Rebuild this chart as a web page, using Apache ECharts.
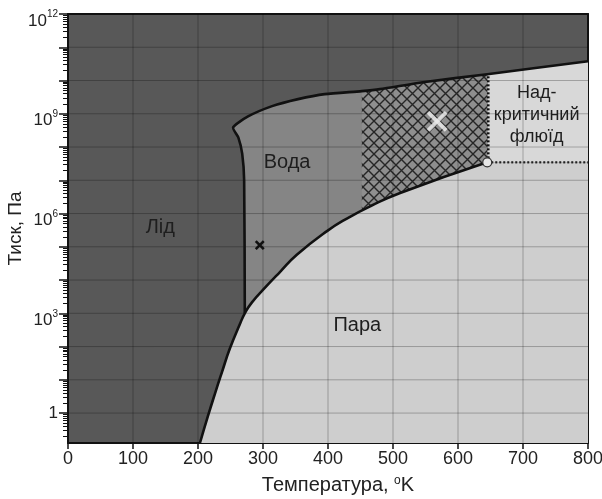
<!DOCTYPE html>
<html><head><meta charset="utf-8">
<script src="https://cdn.jsdelivr.net/npm/echarts@6/dist/echarts.min.js"></script>
<style>html,body{margin:0;padding:0;background:#fff}#c{width:602px;height:499px}</style>
</head><body><div id="c"></div>
<script>
// Temperature in K; pressure given as log10(P / Pa)
const tMin = 0, tMax = 800, pMin = -0.9, pMax = 12;
const yLabelExps = [0, 3, 6, 9, 12];
// sublimation + vaporization curve (ends at the critical point)
const vaporT    = [203, 215, 226, 237, 249, 265, 272, 283, 306, 326, 352, 399, 429, 465, 511, 645];
const vaporLogP = [-0.9, -0.11, 0.58, 1.24, 1.94, 2.7, 3.0, 3.33, 3.83, 4.24, 4.76, 5.48, 5.85, 6.22, 6.62, 7.54];
// melting line (from triple point upward)
const meltT    = [272, 271, 268, 262, 254];
const meltLogP = [3.0, 7.0, 7.8, 8.29, 8.59];
// high-pressure ice boundary
const iceT    = [254, 277, 314, 354, 395, 452, 480, 546, 645, 800];
const iceLogP = [8.59, 8.92, 9.23, 9.44, 9.59, 9.68, 9.74, 9.95, 10.19, 10.58];
const critT = 645, critLogP = 7.54;
// cross-hatched band: temperature range and its lower edge on the vapour curve
const hatchT = [452, 645];
const hatchLowLogP = 6.09;
const blackMark = [295, 5.05];
const whiteMark = [568, 8.77];
const regionNames = ['Лід', 'Вода', 'Пара', 'Над-\nкритичний\nфлюїд'];
const regionAt = [[142, 5.58], [337, 7.54], [445, 2.62], [721, 8.95]];

const pc = document.createElement('canvas');
pc.width = 11; pc.height = 11;
const g = pc.getContext('2d');
g.fillStyle = '#8e8e8e'; g.fillRect(0, 0, 11, 11);
g.strokeStyle = '#262626'; g.lineWidth = 1.4;
g.beginPath();
g.moveTo(-2, -2); g.lineTo(13, 13);
g.moveTo(13, -2); g.lineTo(-2, 13);
g.stroke();

const TXT = '#1e1e1e';
function renderItem(params, api) {
  const C = (t, p) => api.coord([t, p]);
  const ch = [];
  const vap = vaporT.map((t, i) => C(t, vaporLogP[i]));
  const ice = iceT.map((t, i) => C(t, iceLogP[i]));
  const melt = meltT.map((t, i) => C(t, meltLogP[i]));
  // vapour
  ch.push({type: 'polygon', shape: {points: vap.concat([C(tMax, critLogP), C(tMax, pMin), C(vaporT[0], pMin)])}, style: {fill: '#cecece'}});
  // supercritical
  const iceHi = iceT.map((t, i) => [t, iceLogP[i]]).filter(d => d[0] >= critT).map(d => C(d[0], d[1])).reverse();
  ch.push({type: 'polygon', shape: {points: [C(critT, critLogP), C(tMax, critLogP)].concat(iceHi)}, style: {fill: '#d8d8d8'}});
  // water
  const iceLo = iceT.map((t, i) => [t, iceLogP[i]]).filter(d => d[0] > meltT[meltT.length - 1] && d[0] <= critT).map(d => C(d[0], d[1]));
  const vapW = vaporT.map((t, i) => [t, vaporLogP[i]]).filter(d => d[0] >= meltT[0]).map(d => C(d[0], d[1])).reverse();
  ch.push({type: 'polygon', shape: {points: melt.concat(iceLo).concat(vapW)}, style: {fill: '#858585'}});
  // hatch
  const hv = [C(hatchT[0], hatchLowLogP)].concat(vaporT.map((t, i) => [t, vaporLogP[i]]).filter(d => d[0] > hatchT[0] && d[0] <= hatchT[1]).map(d => C(d[0], d[1])));
  const hi = iceT.map((t, i) => [t, iceLogP[i]]).filter(d => d[0] >= hatchT[0] && d[0] <= hatchT[1]).map(d => C(d[0], d[1])).reverse();
  ch.push({type: 'polygon', shape: {points: hv.concat(hi)}, style: {fill: {image: pc, repeat: 'repeat'}}});
  // grid lines
  for (let t = 100; t < tMax; t += 100) {
    const a = C(t, pMin), b = C(t, pMax);
    ch.push({type: 'line', shape: {x1: a[0], y1: a[1], x2: b[0], y2: b[1]}, style: {stroke: 'rgba(0,0,0,0.26)', lineWidth: 1}});
  }
  for (let p = 0; p < pMax; p++) {
    const a = C(tMin, p), b = C(tMax, p);
    ch.push({type: 'line', shape: {x1: a[0], y1: a[1], x2: b[0], y2: b[1]}, style: {stroke: 'rgba(0,0,0,0.26)', lineWidth: 1}});
  }
  // boundaries
  ch.push({type: 'polyline', shape: {points: vap, smooth: 0.5}, style: {stroke: '#111', lineWidth: 2.6, fill: null}});
  ch.push({type: 'polyline', shape: {points: melt.concat(ice.slice(1)), smooth: 0.2}, style: {stroke: '#111', lineWidth: 2.6, fill: null}});
  // critical dotted lines
  const cp = C(critT, critLogP);
  const topC = C(critT, iceLogP[iceT.indexOf(critT)]);
  ch.push({type: 'line', shape: {x1: cp[0], y1: cp[1], x2: C(tMax, critLogP)[0], y2: cp[1]}, style: {stroke: '#222', lineWidth: 2.2, lineDash: [2, 2]}});
  ch.push({type: 'line', shape: {x1: cp[0] + 1, y1: cp[1], x2: topC[0] + 1, y2: topC[1]}, style: {stroke: '#111', lineWidth: 2.6, lineDash: [2, 2]}});
  ch.push({type: 'circle', shape: {cx: cp[0], cy: cp[1], r: 4.5}, style: {fill: '#e6e6e6', stroke: '#333', lineWidth: 1.2}});
  // marks
  const bm = C(blackMark[0], blackMark[1]);
  const wm = C(whiteMark[0], whiteMark[1]);
  const cross = (c, s, w, col) => {
    ch.push({type: 'line', shape: {x1: c[0] - s, y1: c[1] - s, x2: c[0] + s, y2: c[1] + s}, style: {stroke: col, lineWidth: w}});
    ch.push({type: 'line', shape: {x1: c[0] - s, y1: c[1] + s, x2: c[0] + s, y2: c[1] - s}, style: {stroke: col, lineWidth: w}});
  };
  cross(bm, 4, 2.6, '#111');
  cross(wm, 9, 4, 'rgba(235,235,235,0.85)');
  // region names
  regionNames.forEach((n, i) => {
    const c = C(regionAt[i][0], regionAt[i][1]);
    ch.push({type: 'text', x: c[0], y: c[1], style: {text: n, fill: TXT, fontSize: i === 3 ? 18 : 20, fontFamily: 'Liberation Sans, Arial, sans-serif', align: 'center', verticalAlign: 'middle', lineHeight: i === 3 ? 22 : 20}});
  });
  return {type: 'group', children: ch};
}

const yMajor = [];
for (let p = 0; p <= 12; p++) yMajor.push(p);
const yMinor = [];
for (let p = -1; p < 12; p++) for (let k = 2; k <= 9; k++) { const v = p + Math.log10(k); if (v >= pMin && v <= pMax) yMinor.push(v); }

const chart = echarts.init(document.getElementById('c'));
chart.setOption({
  animation: false,
  textStyle: {fontFamily: 'Liberation Sans, Arial, sans-serif'},
  grid: {left: 68, right: 14, top: 14, bottom: 56, show: true, backgroundColor: '#585858', borderWidth: 0, containLabel: false, outerBoundsMode: 'none'},
  xAxis: [{
    type: 'value', min: tMin, max: tMax, interval: 100, position: 'bottom',
    axisLine: {onZero: false, lineStyle: {color: '#111', width: 2}},
    axisTick: {length: 6, lineStyle: {color: '#111', width: 1.5}},
    axisLabel: {fontSize: 18, color: '#222', margin: 7},
    splitLine: {show: false},
    name: 'Температура, {s|o}K', nameLocation: 'middle', nameGap: 32, nameMoveOverlap: false,
    nameTextStyle: {fontSize: 20, color: '#222', padding: [0, 0, 0, 20], rich: {s: {fontSize: 12, verticalAlign: 'top', padding: [0, 0, 8, 0], color: '#222'}}}
  }, {
    type: 'value', min: tMin, max: tMax, position: 'top',
    axisLine: {onZero: false, lineStyle: {color: '#111', width: 2}}, axisTick: {show: false}, axisLabel: {show: false}, splitLine: {show: false}
  }],
  yAxis: [{
    type: 'value', min: pMin, max: pMax, position: 'left',
    axisLine: {onZero: false, lineStyle: {color: '#111', width: 2}},
    axisTick: {length: 9, customValues: yMajor, lineStyle: {color: '#111', width: 1.5}},
    axisLabel: {customValues: yLabelExps, margin: 10, fontSize: 17, color: '#222',
      formatter: v => v === 0 ? '{one|1}' : '{b|10}{s|' + v + '}',
      rich: {one: {fontSize: 17, color: '#222'}, b: {fontSize: 17, color: '#222', padding: [14, 0, 0, 0]}, s: {fontSize: 10, color: '#222', verticalAlign: 'top', padding: [11, 0, 0, 0]}}},
    splitLine: {show: false},
    name: 'Тиск, Па', nameLocation: 'middle', nameGap: 43, nameRotate: 90, nameMoveOverlap: false,
    nameTextStyle: {fontSize: 19, color: '#222'}
  }, {
    type: 'value', min: pMin, max: pMax, position: 'left', offset: 0,
    axisLine: {show: false, onZero: false},
    axisTick: {length: 5, customValues: yMinor, lineStyle: {color: '#111', width: 1}},
    axisLabel: {show: false}, splitLine: {show: false}
  }, {
    type: 'value', min: pMin, max: pMax, position: 'right',
    axisLine: {onZero: false, lineStyle: {color: '#111', width: 2}}, axisTick: {show: false}, axisLabel: {show: false}, splitLine: {show: false}
  }],
  series: [{
    type: 'custom', xAxisIndex: 0, yAxisIndex: 0, renderItem: renderItem, data: [[0, 0]], clip: false, silent: true
  }]
});
</script></body></html>
